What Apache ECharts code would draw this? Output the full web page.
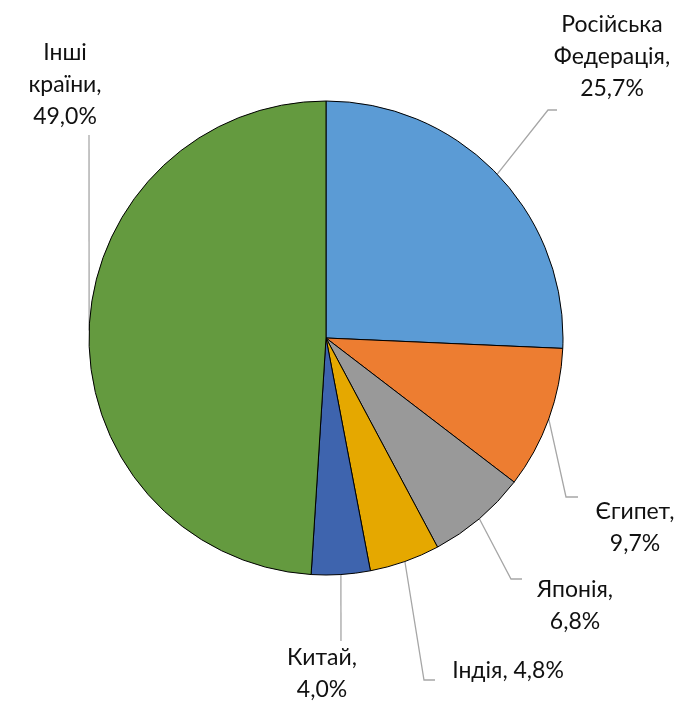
<!DOCTYPE html>
<html>
<head>
<meta charset="utf-8">
<script src="https://cdn.jsdelivr.net/npm/echarts@6/dist/echarts.min.js"></script>
<style>
  html, body { margin: 0; padding: 0; background: #fff; }
  #main { width: 693px; height: 701px; }
</style>
</head>
<body>
<div id="main"></div>
<script>
// data
const countries = ['Російська\nФедерація', 'Єгипет', 'Японія', 'Індія', 'Китай', 'Інші\nкраїни'];
const shares = [25.7, 9.7, 6.8, 4.8, 4.0, 49.0];
const sliceColors = ['#5B9BD5', '#ED7D31', '#999999', '#E5A800', '#3E64AE', '#649A3F'];

// label placement (text centre x, text top y) and leader line bends
const labelSpots = [[612, 9], [635, 496], [575, 574], [508, 655], [322, 642], [65, 37]];
const leaderBends = [
  [[548, 110], [557, 110]],
  [[566, 497], [578, 497]],
  [[511, 579], [522, 579]],
  [[424, 680], [435, 680]],
  [[341, 641]],
  [[89, 135]]
];

const fmt = v => v.toFixed(1).replace('.', ',') + '%';

const chart = echarts.init(document.getElementById('main'));

const option = {
  animation: false,
  series: [{
    type: 'pie',
    center: [326, 338],
    radius: 237,
    startAngle: 90,
    clockwise: true,
    avoidLabelOverlap: false,
    data: countries.map((n, i) => ({
      name: n,
      value: shares[i],
      itemStyle: { color: sliceColors[i] }
    })),
    itemStyle: { borderColor: '#000', borderWidth: 1 },
    label: {
      show: true,
      position: 'outside',
      fontFamily: 'Lato',
      fontSize: 23,
      lineHeight: 32,
      color: '#111',
      formatter: p => p.dataIndex === 3 ? p.name + ', ' + fmt(p.value) : p.name + ',\n' + fmt(p.value)
    },
    labelLine: {
      show: true,
      lineStyle: { color: '#A6A6A6', width: 1.3 }
    },
    labelLayout: function (params) {
      const i = params.dataIndex;
      const start = params.labelLinePoints ? params.labelLinePoints[0] : null;
      const out = {
        x: labelSpots[i][0],
        y: labelSpots[i][1],
        align: 'center',
        verticalAlign: 'top'
      };
      if (start) out.labelLinePoints = [start].concat(leaderBends[i]);
      return out;
    }
  }]
};

chart.setOption(option);
</script>
</body>
</html>
